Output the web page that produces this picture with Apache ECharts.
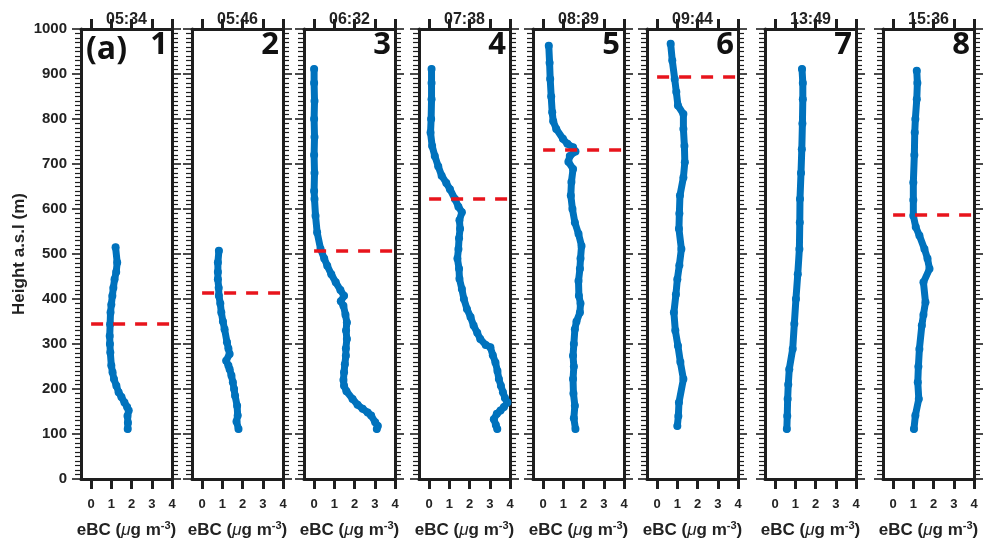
<!DOCTYPE html>
<html><head><meta charset="utf-8">
<script src="https://cdn.jsdelivr.net/npm/echarts@6/dist/echarts.min.js"></script>
<style>html,body{margin:0;padding:0;background:#fff}#c{width:990px;height:550px}</style>
</head><body><div id="c"></div>
<script>
// ---- data ----
const times = ['05:34','05:46','06:32','07:38','08:39','09:44','13:49','15:36'];
const panelIds = ['1','2','3','4','5','6','7','8'];
const xTicks = [0,1,2,3,4];
const yTicks = [0,100,200,300,400,500,600,700,800,900,1000];
const mixHeights = [344, 415, 507, 622, 731, 893, null, 587];
// profiles: [eBC, height]
const profile1 = [[1.21,515],[1.29,481],[1.24,460],[1.16,444],[1.10,425],[1.05,407],[1.0,388],[0.96,370],[0.94,344],[0.92,318],[0.93,300],[0.95,281],[1.0,252],[1.06,237],[1.13,222],[1.25,207],[1.36,193],[1.50,182],[1.65,170],[1.78,160],[1.86,152],[1.80,140],[1.82,125],[1.81,111]];
const profile2 = [[0.83,507],[0.78,481],[0.78,460],[0.78,444],[0.82,425],[0.83,407],[0.90,390],[0.95,370],[1.03,350],[1.11,333],[1.23,304],[1.30,290],[1.36,278],[1.19,263],[1.30,252],[1.36,244],[1.45,230],[1.52,215],[1.58,200],[1.63,185],[1.73,163],[1.76,141],[1.70,128],[1.80,111]];
const profile3 = [[0.0,911],[0.0,880],[0.02,840],[0.0,800],[0.02,760],[0.0,720],[0.02,680],[0.0,640],[0.02,622],[0.07,585],[0.15,548],[0.32,511],[0.5,490],[0.65,474],[0.85,455],[1.07,437],[1.3,420],[1.48,407],[1.32,395],[1.45,385],[1.55,365],[1.62,348],[1.58,330],[1.62,311],[1.57,290],[1.57,274],[1.52,255],[1.48,237],[1.45,220],[1.48,207],[1.6,195],[1.9,178],[2.15,165],[2.4,156],[2.65,148],[2.82,141],[3.02,126],[3.15,118],[3.1,111]];
const profile4 = [[0.12,911],[0.12,880],[0.12,844],[0.1,800],[0.07,770],[0.15,740],[0.28,718],[0.45,695],[0.62,674],[0.85,658],[1.03,644],[1.28,622],[1.45,605],[1.62,593],[1.5,575],[1.53,556],[1.48,535],[1.45,511],[1.40,490],[1.48,467],[1.50,445],[1.62,422],[1.72,400],[1.87,378],[2.05,360],[2.2,341],[2.38,325],[2.53,311],[2.8,298],[3.03,293],[3.15,275],[3.28,259],[3.38,240],[3.45,222],[3.55,207],[3.65,193],[3.75,180],[3.87,170],[3.70,160],[3.53,152],[3.35,145],[3.2,133],[3.3,120],[3.37,111]];
const profile5 = [[0.28,963],[0.32,925],[0.35,889],[0.40,850],[0.45,815],[0.5,795],[0.65,778],[0.98,756],[1.2,745],[1.48,737],[1.6,728],[1.32,718],[1.25,705],[1.48,689],[1.40,660],[1.37,630],[1.45,600],[1.57,570],[1.75,545],[1.9,518],[1.85,490],[1.82,467],[1.75,440],[1.77,407],[1.85,390],[1.82,370],[1.65,350],[1.57,333],[1.52,300],[1.48,274],[1.52,250],[1.48,222],[1.5,190],[1.57,163],[1.52,135],[1.6,111]];
const profile6 = [[0.67,967],[0.75,930],[0.87,889],[0.95,860],[1.03,830],[1.3,811],[1.3,778],[1.35,740],[1.37,704],[1.30,670],[1.13,630],[1.1,590],[1.08,556],[1.2,511],[1.1,475],[1.0,444],[0.93,410],[0.83,370],[0.9,330],[1.03,296],[1.15,260],[1.3,222],[1.08,170],[1.05,140],[1.0,118]];
const profile7 = [[1.33,911],[1.37,880],[1.37,844],[1.35,790],[1.32,733],[1.28,680],[1.23,622],[1.22,570],[1.2,511],[1.12,455],[1.03,400],[0.95,345],[0.87,289],[0.7,244],[0.65,210],[0.62,178],[0.6,140],[0.58,111]];
const profile8 = [[1.17,907],[1.2,880],[1.17,844],[1.1,800],[1.07,770],[1.05,720],[1.0,659],[1.0,620],[1.0,585],[1.12,560],[1.3,541],[1.55,511],[1.7,490],[1.8,467],[1.5,437],[1.6,393],[1.5,365],[1.42,341],[1.3,289],[1.25,250],[1.22,215],[1.27,178],[1.1,141],[1.03,111]];
const profiles = [profile1,profile2,profile3,profile4,profile5,profile6,profile7,profile8];

// ---- layout ----
const lefts = [81,192,304,419,533,647,765,883];
const W = 91, TOP = 29, H = 450;
const BLUE = '#0072BD', RED = '#E8141C', INK = '#1e1e1e', TXT = '#222';
const FONT = 'Liberation Sans';

const grid = [], xAxis = [], yAxis = [], series = [], graphic = [];
lefts.forEach((l, i) => {
  grid.push({left: l, top: TOP, width: W, height: H});
  const axLine = {show: true, onZero: false, lineStyle: {color: INK, width: 3}};
  xAxis.push({
    type: 'value', gridIndex: i, position: 'bottom', min: -0.5, max: 4,
    axisLine: axLine, splitLine: {show: false},
    axisTick: {show: true, customValues: xTicks, length: 10, lineStyle: {color: INK, width: 3}},
    axisLabel: {customValues: xTicks, margin: 19, color: TXT, fontSize: 13, fontWeight: 'bold', fontFamily: FONT},
    name: '{n|eBC (}{mu|\u03bc}{n|g m}{sup|-3}{n|)}', nameLocation: 'middle', nameGap: 41,
    nameTextStyle: {rich: {
      n: {fontSize: 17, fontWeight: 'bold', fontFamily: FONT, color: TXT, lineHeight: 20},
      mu: {fontSize: 17, fontStyle: 'italic', fontFamily: FONT, color: TXT, lineHeight: 20},
      sup: {fontSize: 11, fontWeight: 'bold', fontFamily: FONT, color: TXT, lineHeight: 11, verticalAlign: 'top'}
    }}
  });
  xAxis.push({
    type: 'value', gridIndex: i, position: 'top', min: -0.5, max: 4,
    axisLine: axLine, splitLine: {show: false},
    axisTick: {show: true, customValues: xTicks, length: 10, lineStyle: {color: INK, width: 3}},
    axisLabel: {show: false},
    name: times[i], nameLocation: 'middle', nameGap: 1,
    nameTextStyle: {fontSize: 16, fontWeight: 'bold', fontFamily: FONT, color: TXT}
  });
  const yCommon = {
    type: 'value', gridIndex: i, min: 0, max: 1000, interval: 100,
    axisLine: axLine, splitLine: {show: false},
    axisTick: {show: true, length: 9, lineStyle: {color: INK, width: 1.6}},
    minorTick: {show: true, splitNumber: 10, length: 6, lineStyle: {color: INK, width: 1.2}},
    minorSplitLine: {show: false}
  };
  yAxis.push(Object.assign({}, yCommon, {
    position: 'left',
    axisLabel: {show: i === 0, margin: 14, color: TXT, fontSize: 15, fontWeight: 'bold', fontFamily: FONT,
      formatter: v => String(v)},
    name: i === 0 ? 'Height a.s.l (m)' : '', nameLocation: 'middle', nameGap: 53,
    nameTextStyle: {fontSize: 17, fontWeight: 'bold', fontFamily: FONT, color: TXT}
  }));
  yAxis.push(Object.assign({}, yCommon, {position: 'right', axisLabel: {show: false}}));

  const s = {
    type: 'line', xAxisIndex: 2 * i, yAxisIndex: 2 * i, data: profiles[i],
    symbol: 'circle', symbolSize: 8, showSymbol: true, silent: true,
    lineStyle: {color: BLUE, width: 7, cap: 'round', join: 'round'},
    itemStyle: {color: BLUE}, z: 3
  };
  if (mixHeights[i] != null) {
    s.markLine = {
      silent: true, symbol: 'none', label: {show: false}, animation: false,
      lineStyle: {color: RED, width: 3.5, type: [12, 10]},
      data: [[{coord: [0, mixHeights[i]]}, {coord: [4, mixHeights[i]]}]]
    };
  }
  series.push(s);

  graphic.push({
    type: 'text', x: l + W - 4, y: TOP + 1, z: 10,
    style: {text: panelIds[i], align: 'right', verticalAlign: 'top', textAlign: 'right', textVerticalAlign: 'top',
      font: 'bold 31px "Open Sans"', fill: '#111'}
  });
});
graphic.push({
  type: 'text', x: lefts[0] + 5, y: TOP + 5, z: 10,
  style: {text: '(a)', align: 'left', verticalAlign: 'top', textAlign: 'left', textVerticalAlign: 'top',
    font: 'bold 32px "Open Sans"', fill: '#111'}
});

const chart = echarts.init(document.getElementById('c'), null, {renderer: 'canvas'});
chart.setOption({animation: false, backgroundColor: '#fff', grid, xAxis, yAxis, series, graphic});
</script></body></html>
